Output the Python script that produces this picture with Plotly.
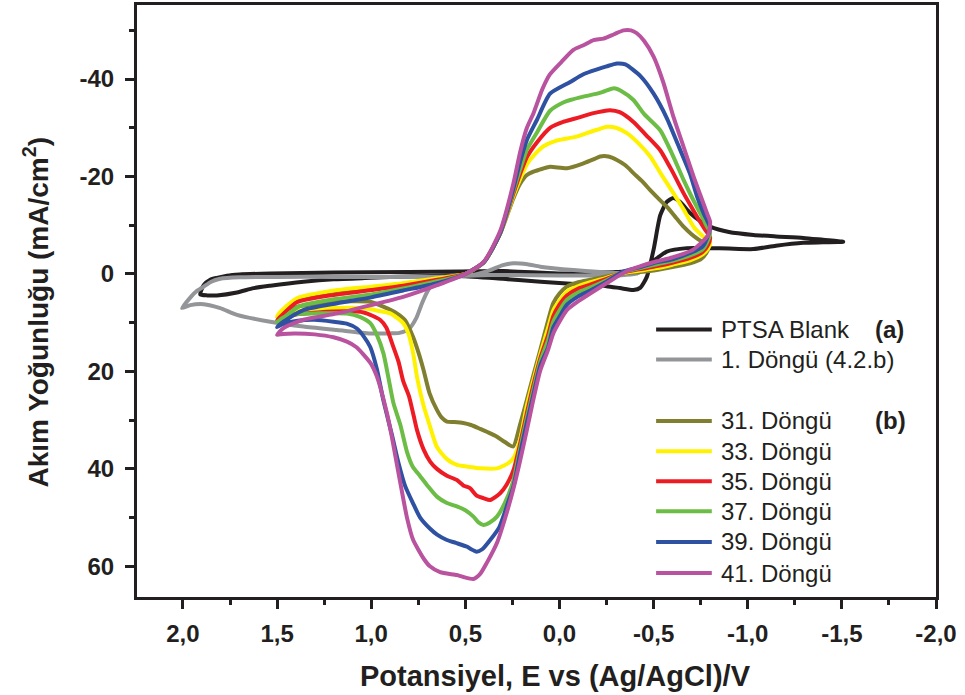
import plotly.graph_objects as go

# ---------------- data ----------------
x_tick_vals = [2.0, 1.5, 1.0, 0.5, 0.0, -0.5, -1.0, -1.5, -2.0]
x_tick_text = ["2,0", "1,5", "1,0", "0,5", "0,0", "-0,5", "-1,0", "-1,5", "-2,0"]
y_tick_vals = [-40, -20, 0, 20, 40, 60]
y_tick_text = ["-40", "-20", "0", "20", "40", "60"]

series_names = ["PTSA Blank", "1. Döngü (4.2.b)", "31. Döngü", "33. Döngü",
                "35. Döngü", "37. Döngü", "39. Döngü", "41. Döngü"]

blank_x = [1.908, 1.87, 1.82, 1.713, 1.625, 1.536, 1.36, 1.2, 1.005, 0.8, 0.527, 0.3, 0.1, -0.1,
           -0.25, -0.322, -0.393, -0.43, -0.464, -0.5, -0.535, -0.57, -0.605, -0.64, -0.694, -0.75,
           -0.8, -0.9, -1.03, -1.15, -1.295, -1.4, -1.507,
           -1.4, -1.295, -1.15, -1.03, -0.9, -0.8, -0.676, -0.57, -0.517, -0.464, -0.41, -0.3,
           -0.1, 0.0, 0.297, 0.527, 0.8, 1.2, 1.536, 1.7, 1.766, 1.82, 1.855, 1.89, 1.908]
blank_y = [4.2, 4.4, 4.4, 3.8, 2.9, 2.4, 1.6, 1.1, 0.8, 0.5, 0.4, 1.0, 1.6, 2.1,
           2.5, 2.9, 3.3, 2.8, 0.6, -5.0, -12.0, -14.8, -15.6, -14.8, -12.5, -10.8,
           -9.7, -8.6, -8.0, -7.7, -7.4, -7.0, -6.6,
           -6.5, -6.4, -5.8, -5.1, -5.2, -5.3, -5.3, -4.6, -3.2, -1.5, -0.7, -0.4,
           -0.2, -0.1, -0.6, -0.5, -0.4, -0.3, -0.1, 0.1, 0.35, 0.8, 1.2, 2.3, 4.2]

cycle1_x = [2.005, 1.961, 1.89, 1.802, 1.713, 1.536, 1.36, 1.182, 1.005, 0.9, 0.85, 0.8, 0.76,
            0.73, 0.70, 0.67, 0.62, 0.5, 0.457, 0.368, 0.3, 0.244, 0.17, 0.102, -0.074, -0.3,
            -0.42, -0.3, 0.0, 0.3, 0.45, 0.6, 0.9, 1.2, 1.5, 1.7, 1.802,
            1.85, 1.89, 1.93, 1.96, 2.005]
cycle1_y = [7.0, 6.4, 6.2, 7.0, 8.4, 9.8, 10.8, 11.5, 12.2, 12.2, 12.1, 11.3, 9.0,
            6.0, 3.5, 1.8, 0.8, 0.4, 0.2, -0.8, -1.8, -2.2, -2.0, -1.5, -0.8, -0.2,
            -0.1, 0.3, 0.3, 0.2, 0.3, 0.5, 0.6, 0.6, 0.6, 0.7, 1.0,
            1.6, 2.6, 3.6, 4.8, 7.0]

c31_x = [1.50, 1.47, 1.395, 1.2, 1.0, 0.83, 0.65, 0.5, 0.40, 0.315, 0.245, 0.209, 0.173, 0.138,
         0.09, 0.05, -0.04, -0.127, -0.18, -0.216, -0.26, -0.305, -0.35, -0.393, -0.44, -0.482,
         -0.53, -0.57, -0.62, -0.659, -0.70, -0.73, -0.77, -0.79,
         -0.78, -0.75, -0.694, -0.6, -0.517, -0.43, -0.338, -0.25, -0.163, -0.1, -0.039, 0.0,
         0.033, 0.06, 0.102, 0.14, 0.173, 0.21, 0.246, 0.29, 0.332, 0.38, 0.421, 0.47, 0.511,
         0.56, 0.598, 0.625, 0.651, 0.69, 0.722, 0.75, 0.778, 0.82, 0.864, 0.93, 1.005, 1.1,
         1.2, 1.3, 1.4, 1.47, 1.5]
c31_y = [9.2, 8.0, 5.3, 3.6, 2.8, 2.0, 1.0, 0.0, -2.5, -8.3, -15.5, -18.5, -20.3, -21.0,
         -21.6, -22.0, -21.7, -22.7, -23.5, -24.1, -24.1, -23.4, -22.3, -20.7, -19.0, -17.2,
         -15.3, -13.8, -11.5, -9.7, -8.2, -7.3, -6.3, -5.5,
         -4.3, -3.0, -2.2, -1.4, -0.8, -0.4, -0.1, 0.5, 1.2, 1.7, 2.6, 4.0,
         6.0, 9.5, 15.6, 21.0, 25.8, 31.0, 35.4, 34.5, 33.4, 32.5, 31.8, 31.0, 30.6,
         30.4, 30.3, 29.5, 27.9, 24.5, 19.7, 16.0, 12.9, 9.5, 8.1, 6.8, 5.7, 5.6,
         5.8, 6.2, 6.8, 8.0, 9.2]

c33_x = [1.50, 1.48, 1.395, 1.18, 1.0, 0.83, 0.65, 0.5, 0.40, 0.315, 0.245, 0.209, 0.173, 0.12,
         0.085, 0.02, -0.04, -0.1, -0.145, -0.2, -0.252, -0.3, -0.358, -0.42, -0.482, -0.54,
         -0.605, -0.66, -0.712, -0.76, -0.80,
         -0.79, -0.76, -0.694, -0.6, -0.517, -0.43, -0.338, -0.25, -0.163, -0.1, -0.04, 0.0,
         0.033, 0.06, 0.102, 0.14, 0.173, 0.209, 0.24, 0.271, 0.332, 0.421, 0.48, 0.545, 0.598,
         0.651, 0.69, 0.722, 0.755, 0.777, 0.80, 0.83, 0.899, 0.97, 1.043, 1.2, 1.35, 1.45, 1.5]
c33_y = [8.8, 7.7, 5.0, 3.3, 2.6, 1.9, 0.9, 0.0, -2.5, -8.3, -16.0, -19.5, -22.5, -25.0,
         -26.2, -27.3, -27.8, -28.3, -28.9, -29.6, -30.2, -30.0, -28.9, -26.8, -24.1, -20.5,
         -16.6, -13.2, -9.7, -7.8, -6.5,
         -5.2, -4.0, -2.8, -1.9, -1.2, -0.7, -0.2, 0.8, 1.7, 2.5, 3.6, 5.5,
         7.5, 11.0, 16.5, 22.0, 27.0, 34.0, 37.5, 38.8, 39.9, 39.9, 39.6, 39.2, 38.0,
         35.5, 31.0, 27.0, 21.5, 16.3, 12.5, 10.1, 8.1, 7.5, 7.0, 7.0, 7.4, 8.0, 8.8]

c35_x = [1.50, 1.47, 1.395, 1.2, 1.0, 0.83, 0.65, 0.5, 0.40, 0.315, 0.245, 0.209, 0.173, 0.12,
         0.05, -0.02, -0.074, -0.127, -0.181, -0.23, -0.269, -0.32, -0.393, -0.46, -0.535, -0.6,
         -0.659, -0.70, -0.73, -0.77, -0.80,
         -0.79, -0.76, -0.694, -0.6, -0.517, -0.43, -0.338, -0.25, -0.163, -0.1, -0.04, 0.0,
         0.033, 0.06, 0.102, 0.14, 0.173, 0.21, 0.244, 0.28, 0.315, 0.368, 0.404, 0.44, 0.474,
         0.511, 0.545, 0.598, 0.651, 0.687, 0.722, 0.757, 0.775, 0.80, 0.83, 0.855, 0.883,
         0.92, 0.953, 1.04, 1.2, 1.4, 1.47, 1.5]
c35_y = [9.4, 8.3, 5.8, 4.3, 3.3, 2.4, 1.2, 0.0, -2.5, -8.3, -16.5, -20.5, -24.0, -27.0,
         -30.0, -31.2, -31.8, -32.4, -33.0, -33.4, -33.6, -33.2, -31.2, -28.5, -25.4, -21.0,
         -16.6, -13.8, -11.8, -9.3, -7.5,
         -6.0, -4.5, -3.3, -2.3, -1.6, -1.0, -0.3, 1.0, 2.2, 3.0, 4.4, 6.3,
         8.7, 12.5, 17.3, 23.0, 28.5, 35.0, 40.2, 43.2, 45.0, 46.4, 46.0, 45.5, 44.0,
         43.4, 42.3, 41.4, 40.0, 38.5, 36.0, 32.0, 29.0, 25.0, 22.0, 18.0, 14.9,
         11.0, 9.4, 7.9, 7.7, 8.3, 8.8, 9.4]

c37_x = [1.50, 1.466, 1.38, 1.2, 1.0, 0.83, 0.65, 0.5, 0.40, 0.315, 0.245, 0.209, 0.173, 0.12,
         0.05, -0.02, -0.057, -0.127, -0.2, -0.24, -0.29, -0.33, -0.393, -0.45, -0.535, -0.6,
         -0.659, -0.70, -0.747, -0.78, -0.80,
         -0.79, -0.76, -0.694, -0.6, -0.517, -0.43, -0.338, -0.25, -0.163, -0.1, -0.04, 0.0,
         0.033, 0.06, 0.102, 0.14, 0.173, 0.21, 0.244, 0.29, 0.332, 0.37, 0.404, 0.43, 0.457,
         0.5, 0.545, 0.598, 0.651, 0.70, 0.74, 0.78, 0.81, 0.845, 0.882, 0.91, 0.935, 0.97,
         1.005, 1.06, 1.129, 1.3, 1.395, 1.47, 1.5]
c37_y = [9.9, 9.0, 6.6, 5.2, 4.2, 3.0, 1.5, 0.0, -2.5, -8.3, -17.0, -21.5, -25.5, -29.0,
         -33.5, -35.2, -35.7, -36.4, -37.0, -37.5, -38.1, -37.5, -35.7, -32.8, -29.5, -24.5,
         -19.3, -16.0, -12.5, -10.0, -8.5,
         -7.0, -5.0, -3.8, -2.7, -2.0, -1.2, -0.4, 1.3, 2.8, 3.8, 5.3, 7.5,
         9.8, 13.5, 18.0, 24.0, 29.5, 36.0, 42.3, 47.0, 49.8, 51.0, 51.5, 51.0, 49.8,
         48.5, 47.7, 47.0, 45.7, 43.5, 41.5, 39.5, 36.5, 31.0, 26.5, 21.0, 16.3, 12.5,
         10.1, 8.8, 8.1, 8.1, 8.2, 9.0, 9.9]

c39_x = [1.50, 1.466, 1.36, 1.18, 1.0, 0.83, 0.65, 0.5, 0.40, 0.315, 0.245, 0.209, 0.173, 0.12,
         0.05, -0.057, -0.127, -0.2, -0.25, -0.305, -0.35, -0.43, -0.5, -0.57, -0.63, -0.694,
         -0.73, -0.765, -0.80,
         -0.79, -0.76, -0.694, -0.6, -0.517, -0.43, -0.338, -0.25, -0.163, -0.1, -0.04, 0.0,
         0.033, 0.06, 0.102, 0.14, 0.173, 0.21, 0.244, 0.28, 0.32, 0.368, 0.41, 0.44, 0.47,
         0.49, 0.55, 0.598, 0.65, 0.687, 0.74, 0.775, 0.82, 0.855, 0.89, 0.935, 0.97, 1.005,
         1.04, 1.076, 1.13, 1.2, 1.3, 1.39, 1.47, 1.5]
c39_y = [10.9, 9.8, 7.4, 6.0, 4.8, 3.4, 1.9, 0.0, -2.5, -8.4, -17.5, -23.0, -27.5, -31.6,
         -37.0, -39.4, -41.0, -42.0, -42.6, -43.2, -43.0, -40.6, -37.0, -32.0, -26.5, -20.5,
         -16.0, -12.5, -9.5,
         -8.0, -5.6, -4.3, -3.0, -2.4, -1.4, -0.5, 1.6, 3.4, 4.6, 6.3, 8.8,
         11.0, 15.0, 18.8, 25.0, 30.5, 37.0, 43.5, 47.7, 52.0, 54.6, 56.5, 57.0, 56.5,
         56.0, 55.2, 54.6, 53.5, 52.3, 50.0, 47.3, 43.5, 38.8, 33.0, 26.0, 19.5, 15.0,
         12.8, 11.2, 10.2, 9.8, 9.4, 9.6, 10.3, 10.9]

c41_x = [1.50, 1.466, 1.36, 1.18, 1.0, 0.83, 0.65, 0.5, 0.40, 0.315, 0.245, 0.209, 0.173, 0.138,
         0.09, 0.05, -0.01, -0.074, -0.13, -0.181, -0.234, -0.29, -0.34, -0.38, -0.411, -0.45,
         -0.5, -0.55, -0.605, -0.66, -0.712, -0.75, -0.783,
         -0.80, -0.79, -0.71, -0.6, -0.517, -0.43, -0.358, -0.25, -0.163, -0.1, -0.04, 0.0,
         0.033, 0.06, 0.102, 0.14, 0.173, 0.21, 0.244, 0.28, 0.33, 0.386, 0.42, 0.457, 0.51,
         0.545, 0.634, 0.688, 0.72, 0.778, 0.81, 0.84, 0.864, 0.89, 0.917, 0.95, 0.97, 1.0,
         1.042, 1.08, 1.129, 1.2, 1.3, 1.4, 1.47, 1.5]
c41_y = [12.5, 11.1, 9.4, 8.1, 6.4, 4.7, 2.3, 0.0, -2.6, -8.8, -18.5, -25.0, -30.0, -33.0,
         -38.0, -41.0, -43.5, -46.0, -47.0, -48.0, -48.3, -49.2, -50.0, -50.0, -49.4, -47.8,
         -44.6, -39.5, -32.3, -26.0, -20.0, -16.0, -12.5,
         -10.7, -8.0, -5.0, -3.4, -2.6, -1.6, -0.6, 1.9, 4.0, 5.6, 7.4, 9.8,
         12.2, 15.5, 19.8, 26.0, 32.0, 38.5, 44.0, 49.0, 55.0, 59.3, 61.5, 62.6, 62.2,
         61.8, 61.2, 60.0, 58.5, 54.5, 50.0, 44.0, 39.0, 33.5, 28.5, 23.5, 21.0, 18.5,
         16.5, 15.0, 13.9, 13.0, 12.4, 12.2, 12.3, 12.5]

series_x = [blank_x, cycle1_x, c31_x, c33_x, c35_x, c37_x, c39_x, c41_x]
series_y = [blank_y, cycle1_y, c31_y, c33_y, c35_y, c37_y, c39_y, c41_y]
series_colors = ["#231f20", "#939598", "#7f7f2f", "#fff200", "#ed1c24", "#6cbd45", "#2e51a2", "#b9529f"]

# ---------------- figure ----------------
INK = "#231f20"
FONT = "Liberation Sans, Arial, sans-serif"

fig = go.Figure()
for name, xs, ys, col in zip(series_names, series_x, series_y, series_colors):
    fig.add_trace(go.Scatter(x=xs, y=ys, mode="lines", name=name,
                             line=dict(color=col, width=4, shape="spline", smoothing=0.6),
                             showlegend=False))

# manual legend (line swatches + labels) inside the plot, lower right
leg_rows = [0.452, 0.401, 0.2975, 0.246, 0.1955, 0.145, 0.093, 0.0405]
for name, col, yy in zip(series_names, series_colors, leg_rows):
    fig.add_shape(type="line", xref="paper", yref="paper", x0=0.6497, x1=0.7194, y0=yy, y1=yy,
                  line=dict(color=col, width=4))
    fig.add_annotation(xref="paper", yref="paper", x=0.7285, y=yy, text=name, showarrow=False,
                       xanchor="left", yanchor="middle", font=dict(family=FONT, size=24, color=INK))
fig.add_annotation(xref="paper", yref="paper", x=0.9212, y=leg_rows[0], text="<b>(a)</b>",
                   showarrow=False, xanchor="left", yanchor="middle",
                   font=dict(family=FONT, size=24, color=INK))
fig.add_annotation(xref="paper", yref="paper", x=0.9212, y=leg_rows[2], text="<b>(b)</b>",
                   showarrow=False, xanchor="left", yanchor="middle",
                   font=dict(family=FONT, size=24, color=INK))

# axis titles as annotations (placed like the reference)
fig.add_annotation(xref="paper", yref="paper", x=0.5235, y=-0.134,
                   text="<b>Potansiyel, E vs (Ag/AgCl)/V</b>", showarrow=False,
                   xanchor="center", yanchor="middle", font=dict(family=FONT, size=29, color=INK))
fig.add_annotation(xref="paper", yref="paper", x=-0.126, y=0.481,
                   text="<b>Akım Yoğunluğu (mA/cm<sup>2</sup>)</b>", showarrow=False, textangle=-90,
                   xanchor="center", yanchor="middle", font=dict(family=FONT, size=28, color=INK))

axis_common = dict(showgrid=False, zeroline=False, showline=True, linewidth=3, linecolor=INK,
                   mirror=True, ticks="outside", ticklen=9, tickwidth=3, tickcolor=INK,
                   tickfont=dict(family=FONT, size=24, color=INK, weight="bold"))

fig.update_xaxes(range=[2.244, -2.0], tickmode="array", tickvals=x_tick_vals, ticktext=x_tick_text,
                 minor=dict(dtick=0.25, tick0=0, ticks="outside", ticklen=5, tickwidth=3, tickcolor=INK),
                 ticklabelstandoff=4, **axis_common)
fig.update_yaxes(range=[66.3, -55.2], tickmode="array", tickvals=y_tick_vals, ticktext=y_tick_text,
                 minor=dict(dtick=10, tick0=0, ticks="outside", ticklen=5, tickwidth=3, tickcolor=INK),
                 ticklabelstandoff=6, **axis_common)

fig.update_layout(width=965, height=695, margin=dict(l=137, r=29, t=5, b=98, autoexpand=False),
                  plot_bgcolor="white", paper_bgcolor="white", showlegend=False,
                  font=dict(family=FONT, color=INK))

fig.write_html("out.html", config={"displayModeBar": False},
               post_script="document.body.style.margin='0';")
